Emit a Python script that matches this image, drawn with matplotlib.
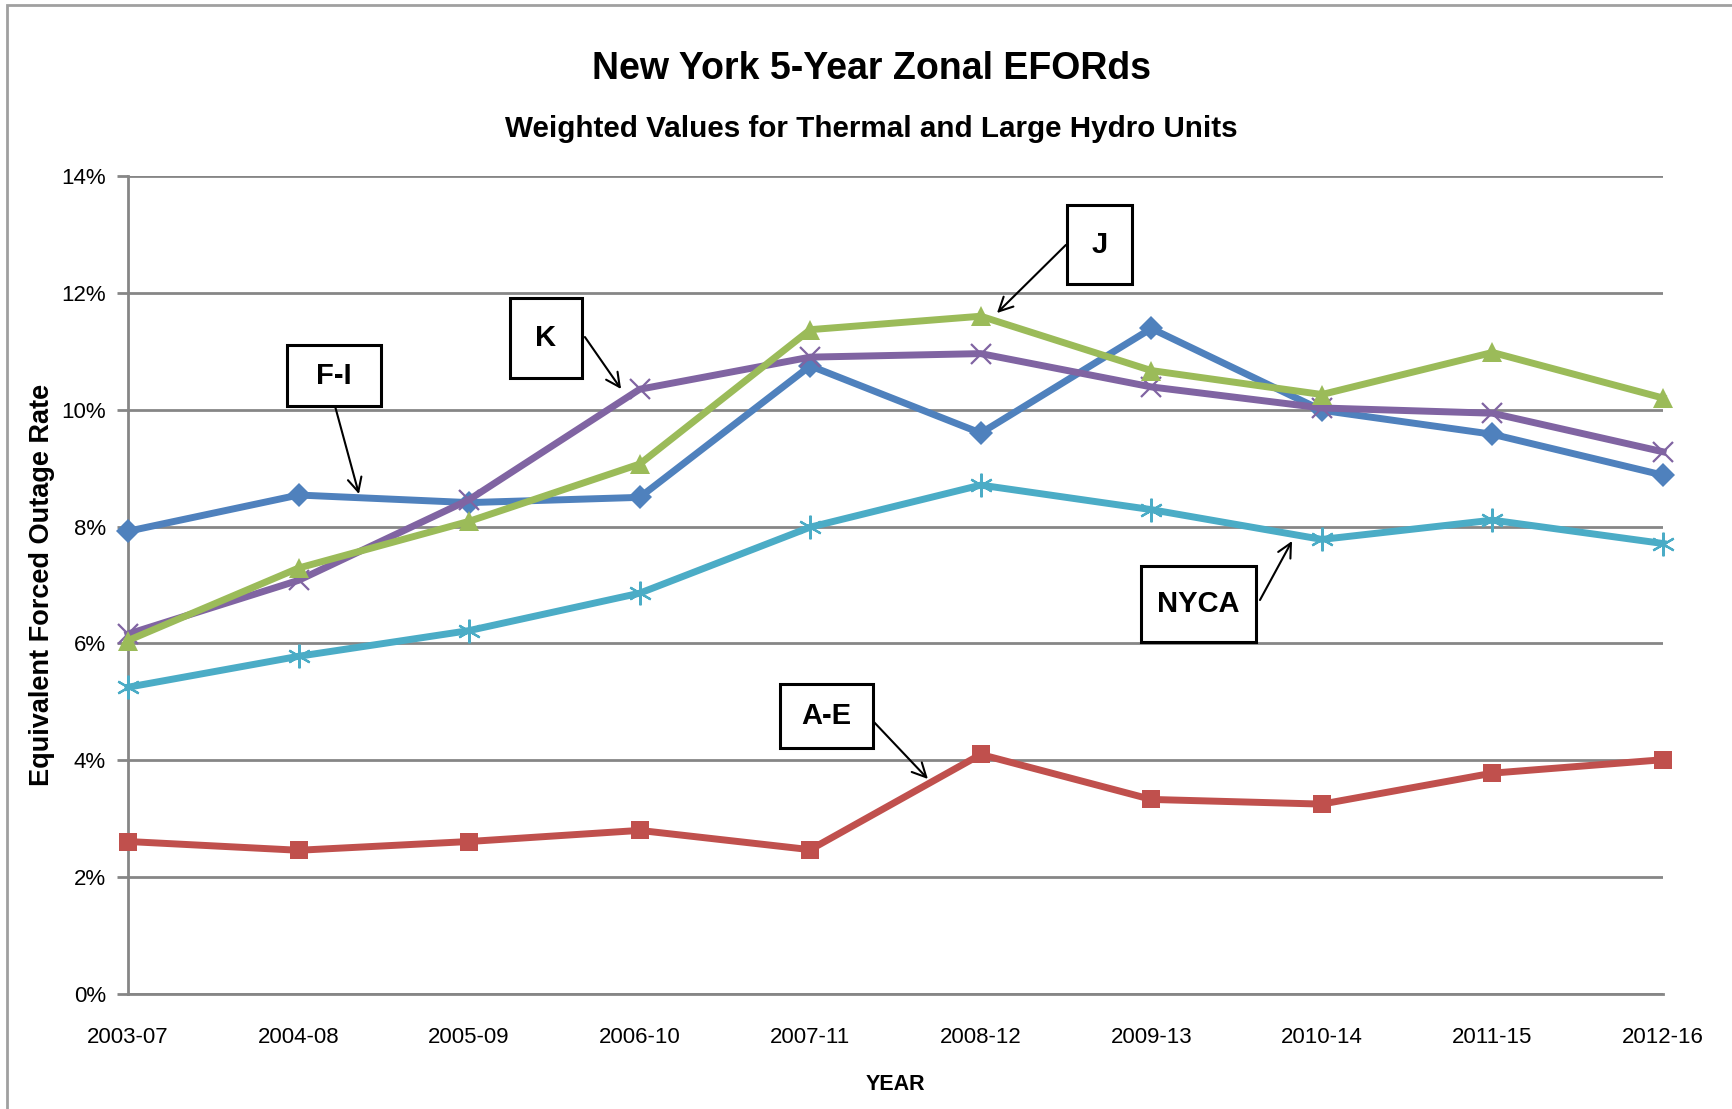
import matplotlib
matplotlib.use("Agg")
import matplotlib.pyplot as plt
from matplotlib.patches import Rectangle
from matplotlib.ticker import FuncFormatter, MultipleLocator

plt.rcParams['font.family'] = ['Liberation Sans', 'DejaVu Sans']

periods = ["2003-07", "2004-08", "2005-09", "2006-10", "2007-11",
           "2008-12", "2009-13", "2010-14", "2011-15", "2012-16"]
fi_vals = [7.92, 8.54, 8.41, 8.50, 10.75, 9.60, 11.39, 9.99, 9.58, 8.88]
ae_vals = [2.61, 2.46, 2.61, 2.80, 2.47, 4.10, 3.33, 3.25, 3.78, 4.01]
j_vals = [6.05, 7.29, 8.09, 9.07, 11.37, 11.60, 10.67, 10.26, 10.98, 10.20]
k_vals = [6.16, 7.08, 8.46, 10.35, 10.90, 10.96, 10.39, 10.03, 9.94, 9.28]
nyca_vals = [5.25, 5.78, 6.22, 6.86, 7.99, 8.71, 8.29, 7.78, 8.11, 7.71]

fig = plt.figure(figsize=(17.32, 11.09), dpi=100)
ax = fig.add_axes([128/1732, 1-994/1109, (1663-128)/1732, (994-176)/1109])

x = list(range(len(periods)))
lw = 5
series = [
    (ae_vals, '#C0504D', 's', 13, 'A-E'),
    (nyca_vals, '#4BACC6', (6, 2, 0), 17, 'NYCA'),
    (fi_vals, '#4F81BD', 'D', 12, 'F-I'),
    (k_vals, '#8064A2', 'x', 14, 'K'),
    (j_vals, '#9BBB59', '^', 14, 'J'),
]
for vals, col, mk, ms, name in series:
    kw = dict(color=col, lw=lw, marker=mk, markersize=ms, clip_on=False, zorder=3)
    if mk in ('x',) or isinstance(mk, tuple):
        kw.update(markeredgewidth=1.6, markeredgecolor=col)
    else:
        kw.update(markeredgewidth=0, markerfacecolor=col)
    ax.plot(x, vals, **kw)

ax.set_xlim(0, len(periods) - 1)
ax.set_ylim(0, 14)
ax.yaxis.set_major_locator(MultipleLocator(2))
ax.yaxis.set_major_formatter(FuncFormatter(lambda v, p: f"{v:.0f}%"))
ax.set_xticks(x)
ax.set_xticklabels(periods)
ax.grid(axis='y', color='#868686', lw=2, zorder=1)
for s in ('top', 'right'):
    ax.spines[s].set_visible(False)
for s in ('left', 'bottom'):
    ax.spines[s].set_color('#868686')
    ax.spines[s].set_linewidth(2)
ax.tick_params(axis='y', length=8, width=2, color='#868686', labelsize=16, pad=8)
ax.tick_params(axis='x', length=0, labelsize=16, pad=24)

ax.set_xlabel("YEAR", fontsize=15.5, fontweight='bold', va='center')
ax.xaxis.set_label_coords(0.5, -(1084 - 994) / 818)
ax.set_ylabel("Equivalent Forced Outage Rate", fontsize=19.5, fontweight='bold', va='center')
ax.yaxis.set_label_coords((42 - 128) / 1535, (994 - 585) / 818)

fig.text(871/1732, 1-69/1109, "New York 5-Year Zonal EFORds", ha='center', va='center',
         fontsize=27, fontweight='bold')
fig.text(871/1732, 1-129/1109, "Weighted Values for Thermal and Large Hydro Units",
         ha='center', va='center', fontsize=21.3, fontweight='bold')

# callout boxes: (label, center x, center y, width, height, arrow start, arrow end)
callouts = [
    ("F-I", 1.208, 10.585, 0.551, 1.044, (1.214, 10.06), (1.354, 8.557)),
    ("K", 2.451, 11.227, 0.422, 1.369, (2.679, 11.244), (2.891, 10.354)),
    ("J", 5.696, 12.827, 0.381, 1.352, (5.499, 12.82), (5.095, 11.655)),
    ("NYCA", 6.276, 6.675, 0.674, 1.301, (6.637, 6.743), (6.825, 7.753)),
    ("A-E", 4.095, 4.758, 0.545, 1.095, (4.368, 4.672), (4.690, 3.680)),
]
for lab, cx, cy, w, h, a0, a1 in callouts:
    ax.add_patch(Rectangle((cx - w/2, cy - h/2), w, h, facecolor='white',
                           edgecolor='black', lw=2.2, zorder=5, clip_on=False))
    ax.text(cx, cy, lab, ha='center', va='center', fontsize=21, fontweight='bold', zorder=6)
    ax.annotate("", xy=a1, xytext=a0,
                arrowprops=dict(arrowstyle='->', color='black', lw=1.5,
                                mutation_scale=25, shrinkA=0, shrinkB=0), zorder=6)

# outer chart border (cropped at right/bottom)
fig.add_artist(Rectangle((7/1732, -0.05), 1.2, 1 - 5/1109 + 0.05, transform=fig.transFigure,
                         facecolor='none', edgecolor='#A0A0A0', lw=2))

fig.savefig("out.png", dpi=100)
